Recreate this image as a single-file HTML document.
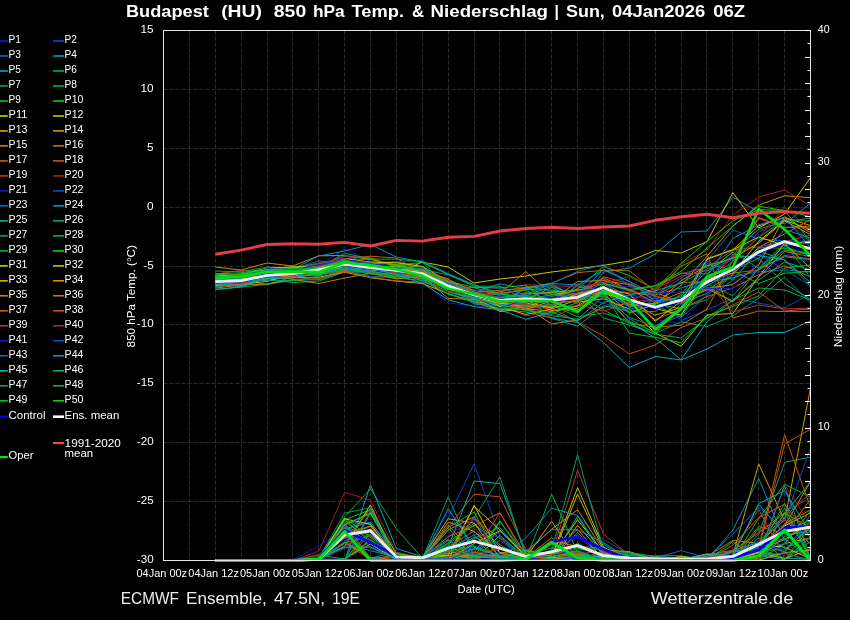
<!DOCTYPE html>
<html lang="en"><head><meta charset="utf-8"><title>Budapest (HU) 850 hPa Temp. &amp; Niederschlag</title>
<style>
html,body{margin:0;padding:0;background:#000;overflow:hidden}
svg{display:block;will-change:transform}
text{font-family:"Liberation Sans",sans-serif;fill:#fff}
.t{font-size:10.8px}
.b{font-size:15.6px;font-weight:bold}
.f{font-size:16.1px;fill:#ececec}
.m{fill:none;stroke-width:0.95;stroke-linejoin:round}
.g{stroke:#2e2e23;stroke-width:1;stroke-dasharray:4.1 1.9;fill:none}
</style></head><body>
<svg width="850" height="620" viewBox="0 0 850 620">
<rect x="0" y="0" width="850" height="620" fill="#000"/>
<g class="g"><path d="M189.5 30.5V560.5"/><path d="M215.5 30.5V560.5"/><path d="M241.5 30.5V560.5"/><path d="M267.5 30.5V560.5"/><path d="M292.5 30.5V560.5"/><path d="M318.5 30.5V560.5"/><path d="M344.5 30.5V560.5"/><path d="M370.5 30.5V560.5"/><path d="M396.5 30.5V560.5"/><path d="M422.5 30.5V560.5"/><path d="M448.5 30.5V560.5"/><path d="M474.5 30.5V560.5"/><path d="M499.5 30.5V560.5"/><path d="M525.5 30.5V560.5"/><path d="M551.5 30.5V560.5"/><path d="M577.5 30.5V560.5"/><path d="M603.5 30.5V560.5"/><path d="M629.5 30.5V560.5"/><path d="M655.5 30.5V560.5"/><path d="M681.5 30.5V560.5"/><path d="M706.5 30.5V560.5"/><path d="M732.5 30.5V560.5"/><path d="M758.5 30.5V560.5"/><path d="M784.5 30.5V560.5"/><path d="M163.5 89.5H810.5"/><path d="M163.5 148.5H810.5"/><path d="M163.5 207.5H810.5"/><path d="M163.5 266.5H810.5"/><path d="M163.5 324.5H810.5"/><path d="M163.5 383.5H810.5"/><path d="M163.5 442.5H810.5"/><path d="M163.5 501.5H810.5"/></g>
<clipPath id="c"><rect x="163.5" y="30.5" width="647.0" height="532.2"/></clipPath>
<g clip-path="url(#c)">
<path class="m" stroke="#1018d8" d="M215.3 283.1L241.1 284.5L267.0 277.8L292.9 272.9L318.8 265.4L344.7 248.9L370.5 261.4L396.4 263.5L422.3 282.0L448.2 302.9L474.1 306.0L499.9 308.0L525.8 286.2L551.7 298.8L577.6 294.3L603.5 286.1L629.3 308.3L655.2 319.3L681.1 323.8L707.0 291.3L732.9 283.7L758.7 263.8L784.6 255.5L810.5 251.4"/><path class="m" stroke="#0050d0" d="M215.3 284.5L241.1 278.8L267.0 271.2L292.9 269.4L318.8 271.2L344.7 263.1L370.5 268.9L396.4 269.8L422.3 275.2L448.2 291.5L474.1 293.5L499.9 300.0L525.8 302.6L551.7 295.3L577.6 290.7L603.5 282.8L629.3 297.3L655.2 297.0L681.1 320.5L707.0 309.9L732.9 298.3L758.7 303.1L784.6 307.8L810.5 294.1"/><path class="m" stroke="#0070d0" d="M215.3 281.8L241.1 281.1L267.0 277.0L292.9 272.8L318.8 272.3L344.7 270.9L370.5 272.5L396.4 275.3L422.3 276.2L448.2 289.4L474.1 294.5L499.9 299.1L525.8 297.0L551.7 291.4L577.6 300.7L603.5 289.4L629.3 307.2L655.2 298.0L681.1 317.5L707.0 295.4L732.9 275.7L758.7 271.8L784.6 269.8L810.5 272.3"/><path class="m" stroke="#0098d0" d="M215.3 278.9L241.1 280.6L267.0 284.3L292.9 280.4L318.8 279.6L344.7 271.0L370.5 270.4L396.4 272.0L422.3 279.3L448.2 287.2L474.1 304.1L499.9 305.9L525.8 306.0L551.7 306.8L577.6 306.1L603.5 272.0L629.3 268.0L655.2 254.0L681.1 232.0L707.0 231.0L732.9 197.2L758.7 212.0L784.6 224.0L810.5 203.0"/><path class="m" stroke="#00b0c0" d="M215.3 280.9L241.1 279.5L267.0 272.1L292.9 269.8L318.8 275.6L344.7 263.7L370.5 264.3L396.4 269.6L422.3 274.3L448.2 287.5L474.1 301.6L499.9 309.5L525.8 312.0L551.7 318.0L577.6 322.5L603.5 342.5L629.3 367.5L655.2 356.5L681.1 360.0L707.0 349.0L732.9 335.0L758.7 332.5L784.6 332.5L810.5 321.0"/><path class="m" stroke="#00a880" d="M215.3 278.4L241.1 280.6L267.0 273.7L292.9 271.3L318.8 275.2L344.7 264.2L370.5 274.2L396.4 276.4L422.3 273.7L448.2 287.8L474.1 296.0L499.9 291.6L525.8 287.6L551.7 296.5L577.6 290.5L603.5 282.4L629.3 298.6L655.2 307.1L681.1 299.3L707.0 287.5L732.9 301.2L758.7 268.4L784.6 246.4L810.5 255.9"/><path class="m" stroke="#00a858" d="M215.3 283.4L241.1 281.8L267.0 277.7L292.9 270.1L318.8 263.7L344.7 264.3L370.5 269.6L396.4 271.1L422.3 270.9L448.2 289.6L474.1 295.1L499.9 303.2L525.8 296.7L551.7 300.1L577.6 312.8L603.5 292.2L629.3 318.6L655.2 333.3L681.1 321.8L707.0 326.6L732.9 315.9L758.7 298.1L784.6 277.1L810.5 302.9"/><path class="m" stroke="#00b840" d="M215.3 289.4L241.1 287.2L267.0 284.3L292.9 277.2L318.8 266.9L344.7 262.8L370.5 266.5L396.4 270.1L422.3 277.0L448.2 286.1L474.1 287.7L499.9 295.4L525.8 287.4L551.7 283.5L577.6 299.0L603.5 287.1L629.3 306.2L655.2 305.0L681.1 317.1L707.0 281.0L732.9 261.2L758.7 237.2L784.6 219.5L810.5 221.3"/><path class="m" stroke="#00c818" d="M215.3 280.8L241.1 285.0L267.0 278.7L292.9 282.6L318.8 281.0L344.7 271.9L370.5 272.2L396.4 274.7L422.3 279.1L448.2 291.8L474.1 299.1L499.9 305.6L525.8 286.5L551.7 290.8L577.6 295.0L603.5 309.8L629.3 323.3L655.2 334.4L681.1 303.3L707.0 293.4L732.9 274.7L758.7 247.6L784.6 248.3L810.5 253.9"/><path class="m" stroke="#10d000" d="M215.3 280.1L241.1 277.3L267.0 272.6L292.9 269.1L318.8 263.5L344.7 259.7L370.5 259.0L396.4 265.0L422.3 262.5L448.2 274.1L474.1 284.7L499.9 293.6L525.8 289.7L551.7 289.9L577.6 295.3L603.5 286.8L629.3 305.9L655.2 303.4L681.1 308.9L707.0 282.0L732.9 277.8L758.7 269.9L784.6 249.9L810.5 254.4"/><path class="m" stroke="#d8d000" d="M215.3 285.4L241.1 284.3L267.0 281.4L292.9 274.2L318.8 271.3L344.7 265.3L370.5 268.0L396.4 273.2L422.3 262.0L448.2 267.0L474.1 283.0L499.9 279.0L525.8 276.0L551.7 272.0L577.6 268.8L603.5 265.4L629.3 261.1L655.2 250.5L681.1 253.0L707.0 241.6L732.9 192.6L758.7 228.0L784.6 214.0L810.5 177.7"/><path class="m" stroke="#d8c000" d="M215.3 284.8L241.1 281.5L267.0 278.6L292.9 277.4L318.8 277.2L344.7 272.2L370.5 277.6L396.4 281.1L422.3 283.5L448.2 293.6L474.1 301.8L499.9 304.9L525.8 305.7L551.7 299.9L577.6 302.2L603.5 298.8L629.3 309.0L655.2 332.9L681.1 346.2L707.0 314.9L732.9 313.5L758.7 276.7L784.6 243.4L810.5 268.5"/><path class="m" stroke="#d8a800" d="M215.3 283.6L241.1 282.7L267.0 273.7L292.9 277.9L318.8 267.6L344.7 264.7L370.5 266.2L396.4 272.3L422.3 280.8L448.2 285.1L474.1 290.6L499.9 300.3L525.8 293.9L551.7 292.4L577.6 290.0L603.5 289.9L629.3 301.1L655.2 315.3L681.1 307.3L707.0 258.6L732.9 249.7L758.7 225.9L784.6 217.5L810.5 225.5"/><path class="m" stroke="#d89000" d="M215.3 267.0L241.1 270.0L267.0 263.0L292.9 266.0L318.8 255.8L344.7 255.5L370.5 259.4L396.4 265.7L422.3 269.1L448.2 283.4L474.1 294.4L499.9 302.4L525.8 300.3L551.7 310.5L577.6 308.3L603.5 287.9L629.3 304.6L655.2 303.5L681.1 285.4L707.0 256.3L732.9 226.1L758.7 205.1L784.6 195.8L810.5 197.7"/><path class="m" stroke="#d88000" d="M215.3 282.9L241.1 279.7L267.0 275.4L292.9 273.0L318.8 271.5L344.7 261.4L370.5 264.2L396.4 262.1L422.3 266.8L448.2 286.8L474.1 297.0L499.9 303.4L525.8 307.1L551.7 324.0L577.6 320.0L603.5 307.2L629.3 302.9L655.2 307.0L681.1 301.4L707.0 290.0L732.9 274.4L758.7 247.3L784.6 233.8L810.5 219.5"/><path class="m" stroke="#d07000" d="M215.3 286.4L241.1 283.7L267.0 274.4L292.9 270.6L318.8 268.8L344.7 265.4L370.5 268.9L396.4 273.2L422.3 271.7L448.2 278.9L474.1 297.4L499.9 293.7L525.8 271.5L551.7 294.8L577.6 290.6L603.5 292.4L629.3 323.0L655.2 327.3L681.1 325.2L707.0 308.9L732.9 260.1L758.7 218.3L784.6 227.7L810.5 226.2"/><path class="m" stroke="#d06000" d="M215.3 276.7L241.1 280.1L267.0 276.6L292.9 267.8L318.8 265.6L344.7 258.7L370.5 256.2L396.4 258.0L422.3 273.5L448.2 282.3L474.1 302.7L499.9 310.3L525.8 307.0L551.7 306.4L577.6 288.1L603.5 283.8L629.3 300.3L655.2 319.7L681.1 309.1L707.0 296.5L732.9 287.9L758.7 274.6L784.6 265.8L810.5 276.9"/><path class="m" stroke="#d05020" d="M215.3 280.9L241.1 284.2L267.0 275.5L292.9 276.7L318.8 273.4L344.7 270.7L370.5 271.7L396.4 268.1L422.3 271.7L448.2 282.4L474.1 293.3L499.9 305.7L525.8 307.7L551.7 308.2L577.6 322.0L603.5 336.0L629.3 354.0L655.2 345.0L681.1 327.5L707.0 318.0L732.9 305.0L758.7 292.0L784.6 311.0L810.5 309.0"/><path class="m" stroke="#c83830" d="M215.3 274.1L241.1 270.4L267.0 271.7L292.9 270.9L318.8 265.5L344.7 256.4L370.5 257.5L396.4 267.6L422.3 278.3L448.2 286.2L474.1 293.1L499.9 304.6L525.8 307.7L551.7 318.7L577.6 304.7L603.5 311.1L629.3 302.2L655.2 287.6L681.1 273.7L707.0 267.3L732.9 250.1L758.7 246.8L784.6 241.7L810.5 235.0"/><path class="m" stroke="#b02020" d="M215.3 277.0L241.1 274.5L267.0 271.9L292.9 271.4L318.8 263.2L344.7 259.2L370.5 267.1L396.4 273.3L422.3 273.7L448.2 289.2L474.1 298.7L499.9 305.0L525.8 315.8L551.7 311.6L577.6 302.9L603.5 287.5L629.3 299.1L655.2 301.8L681.1 264.0L707.0 250.0L732.9 215.0L758.7 197.0L784.6 190.0L810.5 206.0"/><path class="m" stroke="#1018d8" d="M215.3 274.3L241.1 277.5L267.0 273.9L292.9 269.7L318.8 267.4L344.7 262.5L370.5 262.7L396.4 267.1L422.3 272.3L448.2 282.7L474.1 291.2L499.9 288.0L525.8 295.6L551.7 289.4L577.6 284.5L603.5 278.8L629.3 294.5L655.2 301.6L681.1 305.2L707.0 282.6L732.9 275.9L758.7 272.4L784.6 256.3L810.5 262.1"/><path class="m" stroke="#0050d0" d="M215.3 282.0L241.1 274.1L267.0 268.8L292.9 270.5L318.8 264.7L344.7 255.7L370.5 263.0L396.4 261.3L422.3 260.7L448.2 273.4L474.1 284.8L499.9 295.9L525.8 296.8L551.7 299.0L577.6 293.6L603.5 280.9L629.3 289.5L655.2 298.7L681.1 300.0L707.0 294.0L732.9 260.0L758.7 232.2L784.6 218.9L810.5 242.1"/><path class="m" stroke="#0070d0" d="M215.3 277.1L241.1 275.7L267.0 271.7L292.9 268.9L318.8 260.8L344.7 264.6L370.5 274.2L396.4 273.8L422.3 275.1L448.2 291.3L474.1 300.3L499.9 304.2L525.8 304.5L551.7 307.6L577.6 283.9L603.5 292.2L629.3 306.7L655.2 325.8L681.1 315.9L707.0 260.6L732.9 230.2L758.7 238.9L784.6 241.1L810.5 241.2"/><path class="m" stroke="#0098d0" d="M215.3 284.4L241.1 282.5L267.0 270.0L292.9 269.2L318.8 256.0L344.7 251.0L370.5 244.4L396.4 257.0L422.3 262.0L448.2 287.4L474.1 292.7L499.9 283.7L525.8 288.9L551.7 285.5L577.6 296.4L603.5 269.2L629.3 281.3L655.2 294.7L681.1 287.9L707.0 279.9L732.9 254.6L758.7 258.4L784.6 229.5L810.5 238.1"/><path class="m" stroke="#00b0c0" d="M215.3 283.8L241.1 286.7L267.0 276.5L292.9 270.3L318.8 268.2L344.7 261.3L370.5 262.5L396.4 270.0L422.3 268.9L448.2 285.5L474.1 299.1L499.9 306.2L525.8 300.0L551.7 287.3L577.6 300.0L603.5 296.0L629.3 322.0L655.2 338.0L681.1 359.7L707.0 322.0L732.9 300.0L758.7 280.0L784.6 262.0L810.5 270.0"/><path class="m" stroke="#00a880" d="M215.3 282.2L241.1 283.5L267.0 279.6L292.9 272.2L318.8 271.5L344.7 268.2L370.5 271.5L396.4 278.0L422.3 280.5L448.2 294.2L474.1 302.2L499.9 298.1L525.8 296.1L551.7 286.1L577.6 296.0L603.5 282.9L629.3 290.9L655.2 286.1L681.1 273.3L707.0 273.8L732.9 251.5L758.7 229.2L784.6 221.6L810.5 218.2"/><path class="m" stroke="#00a858" d="M215.3 271.1L241.1 271.7L267.0 267.1L292.9 268.3L318.8 263.0L344.7 260.9L370.5 264.8L396.4 269.9L422.3 275.1L448.2 283.1L474.1 295.6L499.9 293.4L525.8 298.9L551.7 305.1L577.6 316.8L603.5 313.0L629.3 321.2L655.2 332.0L681.1 309.6L707.0 283.8L732.9 295.7L758.7 268.6L784.6 243.5L810.5 277.5"/><path class="m" stroke="#00b840" d="M215.3 280.5L241.1 278.6L267.0 277.6L292.9 273.4L318.8 268.2L344.7 253.2L370.5 259.1L396.4 259.1L422.3 261.6L448.2 274.5L474.1 286.3L499.9 286.2L525.8 300.1L551.7 294.6L577.6 293.4L603.5 318.0L629.3 325.0L655.2 334.0L681.1 338.0L707.0 318.0L732.9 300.0L758.7 288.0L784.6 290.0L810.5 300.0"/><path class="m" stroke="#00c818" d="M215.3 281.4L241.1 279.6L267.0 275.2L292.9 275.3L318.8 275.1L344.7 265.2L370.5 267.3L396.4 266.2L422.3 269.0L448.2 292.1L474.1 297.7L499.9 310.2L525.8 306.6L551.7 304.5L577.6 285.8L603.5 292.9L629.3 333.2L655.2 337.3L681.1 342.7L707.0 315.7L732.9 306.5L758.7 295.9L784.6 268.1L810.5 264.9"/><path class="m" stroke="#10d000" d="M215.3 273.8L241.1 272.8L267.0 268.7L292.9 268.0L318.8 267.6L344.7 258.7L370.5 277.1L396.4 276.9L422.3 277.1L448.2 288.9L474.1 294.2L499.9 297.6L525.8 295.6L551.7 298.9L577.6 289.1L603.5 266.5L629.3 275.4L655.2 289.4L681.1 263.4L707.0 241.3L732.9 220.9L758.7 209.7L784.6 210.3L810.5 216.9"/><path class="m" stroke="#d8d000" d="M215.3 275.8L241.1 274.9L267.0 268.4L292.9 266.8L318.8 266.6L344.7 262.3L370.5 264.8L396.4 268.4L422.3 272.4L448.2 287.5L474.1 296.6L499.9 303.4L525.8 302.9L551.7 307.8L577.6 293.0L603.5 292.9L629.3 301.3L655.2 308.4L681.1 315.1L707.0 278.4L732.9 273.1L758.7 241.2L784.6 220.3L810.5 229.4"/><path class="m" stroke="#d8c000" d="M215.3 280.8L241.1 279.1L267.0 277.7L292.9 273.5L318.8 267.7L344.7 258.7L370.5 262.1L396.4 262.8L422.3 266.4L448.2 281.3L474.1 290.4L499.9 306.6L525.8 314.5L551.7 309.0L577.6 299.6L603.5 288.4L629.3 293.9L655.2 321.2L681.1 301.2L707.0 259.5L732.9 249.8L758.7 237.0L784.6 245.3L810.5 240.9"/><path class="m" stroke="#d8a800" d="M215.3 278.4L241.1 279.5L267.0 275.6L292.9 276.3L318.8 274.4L344.7 266.3L370.5 264.6L396.4 269.4L422.3 270.1L448.2 285.2L474.1 297.1L499.9 311.6L525.8 308.8L551.7 311.3L577.6 306.0L603.5 290.3L629.3 312.5L655.2 304.8L681.1 280.7L707.0 265.8L732.9 258.3L758.7 243.0L784.6 220.9L810.5 234.7"/><path class="m" stroke="#d89000" d="M215.3 279.3L241.1 278.5L267.0 268.7L292.9 267.6L318.8 267.8L344.7 262.1L370.5 267.1L396.4 266.1L422.3 269.7L448.2 284.4L474.1 295.4L499.9 300.2L525.8 309.5L551.7 300.7L577.6 281.4L603.5 280.6L629.3 284.7L655.2 292.5L681.1 302.3L707.0 288.4L732.9 284.6L758.7 265.0L784.6 216.8L810.5 232.7"/><path class="m" stroke="#d88000" d="M215.3 288.1L241.1 285.0L267.0 284.0L292.9 279.5L318.8 283.5L344.7 278.0L370.5 273.2L396.4 278.9L422.3 276.3L448.2 298.4L474.1 299.4L499.9 302.9L525.8 293.6L551.7 292.8L577.6 294.6L603.5 277.8L629.3 289.6L655.2 302.8L681.1 292.6L707.0 288.6L732.9 301.8L758.7 277.4L784.6 251.3L810.5 256.7"/><path class="m" stroke="#d07000" d="M215.3 279.3L241.1 275.1L267.0 277.1L292.9 275.1L318.8 266.5L344.7 263.1L370.5 261.9L396.4 271.3L422.3 269.6L448.2 279.3L474.1 291.9L499.9 290.4L525.8 287.8L551.7 283.1L577.6 272.6L603.5 270.4L629.3 270.7L655.2 291.4L681.1 266.3L707.0 253.9L732.9 318.0L758.7 311.0L784.6 311.6L810.5 311.6"/><path class="m" stroke="#d06000" d="M215.3 282.9L241.1 281.7L267.0 276.6L292.9 279.1L318.8 278.7L344.7 270.1L370.5 277.6L396.4 280.9L422.3 282.3L448.2 287.5L474.1 291.3L499.9 293.1L525.8 290.3L551.7 302.2L577.6 301.1L603.5 289.0L629.3 292.9L655.2 295.2L681.1 282.5L707.0 281.7L732.9 273.1L758.7 270.0L784.6 255.6L810.5 258.8"/><path class="m" stroke="#d05020" d="M215.3 287.3L241.1 283.5L267.0 277.2L292.9 277.7L318.8 273.7L344.7 272.5L370.5 270.3L396.4 270.9L422.3 277.9L448.2 286.4L474.1 293.9L499.9 302.0L525.8 306.0L551.7 305.0L577.6 299.8L603.5 276.7L629.3 283.7L655.2 296.5L681.1 301.2L707.0 281.1L732.9 256.9L758.7 217.4L784.6 227.2L810.5 226.9"/><path class="m" stroke="#c83830" d="M215.3 280.3L241.1 283.8L267.0 277.8L292.9 277.0L318.8 273.5L344.7 264.5L370.5 272.3L396.4 276.0L422.3 272.1L448.2 280.1L474.1 290.8L499.9 299.0L525.8 305.2L551.7 298.6L577.6 293.6L603.5 279.6L629.3 291.0L655.2 295.5L681.1 303.9L707.0 281.5L732.9 312.0L758.7 305.0L784.6 309.0L810.5 308.0"/><path class="m" stroke="#b02020" d="M215.3 282.6L241.1 283.7L267.0 274.7L292.9 271.1L318.8 263.2L344.7 258.2L370.5 269.0L396.4 271.3L422.3 274.8L448.2 291.9L474.1 291.1L499.9 297.6L525.8 284.6L551.7 286.0L577.6 286.3L603.5 283.3L629.3 276.7L655.2 289.0L681.1 276.2L707.0 270.7L732.9 259.4L758.7 237.4L784.6 207.5L810.5 229.5"/><path class="m" stroke="#1018d8" d="M215.3 281.0L241.1 277.0L267.0 268.5L292.9 269.5L318.8 265.0L344.7 259.5L370.5 263.0L396.4 268.5L422.3 268.1L448.2 286.7L474.1 297.5L499.9 308.4L525.8 299.2L551.7 298.2L577.6 291.4L603.5 287.2L629.3 286.6L655.2 293.8L681.1 291.7L707.0 288.4L732.9 288.4L758.7 267.0L784.6 241.8L810.5 261.0"/><path class="m" stroke="#0050d0" d="M215.3 282.2L241.1 278.2L267.0 269.7L292.9 270.7L318.8 266.2L344.7 260.7L370.5 264.2L396.4 269.7L422.3 275.0L448.2 284.2L474.1 296.0L499.9 296.8L525.8 297.8L551.7 304.5L577.6 295.4L603.5 303.3L629.3 309.8L655.2 300.3L681.1 301.6L707.0 276.5L732.9 266.7L758.7 254.1L784.6 269.9L810.5 285.6"/><path class="m" stroke="#0070d0" d="M215.3 277.3L241.1 276.3L267.0 272.4L292.9 275.2L318.8 271.8L344.7 269.2L370.5 277.3L396.4 273.8L422.3 280.0L448.2 286.4L474.1 296.1L499.9 301.1L525.8 294.3L551.7 283.4L577.6 271.4L603.5 264.5L629.3 286.0L655.2 294.6L681.1 278.0L707.0 260.9L732.9 280.5L758.7 248.5L784.6 242.5L810.5 243.8"/><path class="m" stroke="#0098d0" d="M215.3 283.5L241.1 285.7L267.0 277.0L292.9 274.4L318.8 271.9L344.7 269.0L370.5 270.5L396.4 267.2L422.3 269.7L448.2 282.5L474.1 292.0L499.9 302.0L525.8 288.6L551.7 283.6L577.6 284.9L603.5 269.8L629.3 281.5L655.2 301.3L681.1 297.5L707.0 276.0L732.9 238.5L758.7 224.8L784.6 217.3L810.5 247.6"/><path class="m" stroke="#00b0c0" d="M215.3 289.5L241.1 286.7L267.0 278.4L292.9 278.0L318.8 273.1L344.7 268.9L370.5 268.7L396.4 274.7L422.3 283.2L448.2 299.8L474.1 306.6L499.9 309.8L525.8 319.2L551.7 312.2L577.6 320.9L603.5 302.6L629.3 294.9L655.2 290.8L681.1 283.1L707.0 269.0L732.9 257.4L758.7 255.5L784.6 259.9L810.5 282.6"/><path class="m" stroke="#00a880" d="M215.3 275.7L241.1 278.3L267.0 269.4L292.9 272.3L318.8 274.6L344.7 267.8L370.5 264.6L396.4 268.2L422.3 269.4L448.2 274.8L474.1 284.7L499.9 294.1L525.8 296.4L551.7 318.2L577.6 326.3L603.5 305.7L629.3 311.1L655.2 311.6L681.1 294.3L707.0 263.6L732.9 270.2L758.7 258.1L784.6 283.7L810.5 299.4"/><path class="m" stroke="#00a858" d="M215.3 287.2L241.1 280.5L267.0 280.5L292.9 280.7L318.8 276.2L344.7 269.3L370.5 271.7L396.4 274.5L422.3 278.6L448.2 294.0L474.1 301.3L499.9 308.3L525.8 309.7L551.7 315.6L577.6 319.2L603.5 296.5L629.3 317.3L655.2 326.7L681.1 307.9L707.0 299.7L732.9 279.9L758.7 251.1L784.6 259.8L810.5 285.9"/><path class="m" stroke="#00b840" d="M215.3 276.9L241.1 275.2L267.0 270.9L292.9 270.9L318.8 270.6L344.7 260.9L370.5 270.8L396.4 276.9L422.3 278.0L448.2 286.2L474.1 294.1L499.9 297.8L525.8 292.6L551.7 294.0L577.6 298.5L603.5 294.6L629.3 313.3L655.2 303.9L681.1 295.8L707.0 271.5L732.9 252.2L758.7 268.2L784.6 256.8L810.5 259.7"/><path class="m" stroke="#00c818" d="M215.3 274.7L241.1 273.9L267.0 269.7L292.9 268.9L318.8 268.6L344.7 259.8L370.5 268.9L396.4 265.0L422.3 267.1L448.2 286.8L474.1 297.6L499.9 304.9L525.8 310.5L551.7 314.3L577.6 302.0L603.5 287.1L629.3 300.9L655.2 308.5L681.1 299.3L707.0 285.8L732.9 270.6L758.7 283.5L784.6 273.3L810.5 271.3"/><path class="m" stroke="#10d000" d="M215.3 279.6L241.1 279.5L267.0 274.7L292.9 273.3L318.8 273.8L344.7 265.3L370.5 262.8L396.4 264.7L422.3 272.2L448.2 281.3L474.1 287.4L499.9 287.9L525.8 285.1L551.7 305.7L577.6 312.9L603.5 283.4L629.3 289.6L655.2 285.6L681.1 271.3L707.0 248.1L732.9 226.0L758.7 206.2L784.6 210.7L810.5 241.2"/>
<path class="m" stroke="#1018d8" d="M215.3 560.5L241.1 560.5L267.0 560.5L292.9 559.8L318.8 545.9L344.7 530.0L370.5 522.5L396.4 555.8L422.3 556.5L448.2 531.0L474.1 558.3L499.9 552.2L525.8 555.4L551.7 557.8L577.6 534.9L603.5 558.5L629.3 560.1L655.2 560.0L681.1 560.3L707.0 560.5L732.9 559.5L758.7 547.7L784.6 524.3L810.5 528.1"/><path class="m" stroke="#0050d0" d="M215.3 560.5L241.1 560.5L267.0 560.5L292.9 560.5L318.8 559.4L344.7 541.1L370.5 525.9L396.4 559.5L422.3 559.2L448.2 518.1L474.1 463.8L499.9 536.6L525.8 557.9L551.7 560.2L577.6 516.4L603.5 539.6L629.3 554.2L655.2 560.0L681.1 558.5L707.0 559.9L732.9 560.2L758.7 559.8L784.6 511.6L810.5 497.6"/><path class="m" stroke="#0070d0" d="M215.3 560.5L241.1 560.5L267.0 560.5L292.9 560.5L318.8 559.3L344.7 524.8L370.5 547.4L396.4 559.6L422.3 558.5L448.2 558.4L474.1 555.1L499.9 548.9L525.8 558.4L551.7 554.5L577.6 556.9L603.5 555.7L629.3 554.4L655.2 557.9L681.1 550.6L707.0 557.9L732.9 534.0L758.7 507.5L784.6 529.0L810.5 559.2"/><path class="m" stroke="#0098d0" d="M215.3 560.5L241.1 560.5L267.0 560.5L292.9 560.5L318.8 558.2L344.7 523.4L370.5 558.0L396.4 552.3L422.3 558.7L448.2 557.4L474.1 538.3L499.9 527.6L525.8 557.8L551.7 558.9L577.6 554.7L603.5 559.3L629.3 560.5L655.2 557.2L681.1 559.7L707.0 560.2L732.9 530.0L758.7 478.4L784.6 540.6L810.5 520.8"/><path class="m" stroke="#00b0c0" d="M215.3 560.5L241.1 560.5L267.0 560.5L292.9 560.5L318.8 560.5L344.7 560.5L370.5 485.0L396.4 548.6L422.3 556.6L448.2 551.3L474.1 557.8L499.9 557.3L525.8 560.4L551.7 556.4L577.6 560.4L603.5 558.0L629.3 560.0L655.2 560.2L681.1 559.8L707.0 558.7L732.9 560.2L758.7 555.2L784.6 559.9L810.5 526.4"/><path class="m" stroke="#00a880" d="M215.3 560.5L241.1 560.5L267.0 560.5L292.9 560.5L318.8 558.6L344.7 543.5L370.5 550.8L396.4 556.8L422.3 560.2L448.2 549.2L474.1 535.0L499.9 560.3L525.8 557.1L551.7 560.3L577.6 548.4L603.5 554.0L629.3 557.7L655.2 559.6L681.1 559.8L707.0 559.7L732.9 560.4L758.7 534.0L784.6 462.4L810.5 457.1"/><path class="m" stroke="#00a858" d="M215.3 560.5L241.1 560.5L267.0 560.5L292.9 560.5L318.8 560.5L344.7 533.7L370.5 508.5L396.4 553.4L422.3 559.2L448.2 496.9L474.1 555.2L499.9 556.5L525.8 559.4L551.7 560.2L577.6 555.5L603.5 556.1L629.3 559.4L655.2 558.3L681.1 559.0L707.0 560.5L732.9 558.8L758.7 559.0L784.6 536.4L810.5 529.5"/><path class="m" stroke="#00b840" d="M215.3 560.5L241.1 560.5L267.0 560.5L292.9 560.5L318.8 559.7L344.7 516.8L370.5 488.9L396.4 528.7L422.3 557.9L448.2 546.7L474.1 531.0L499.9 556.6L525.8 556.2L551.7 560.0L577.6 560.0L603.5 544.2L629.3 560.2L655.2 559.6L681.1 558.9L707.0 560.1L732.9 559.7L758.7 537.9L784.6 559.4L810.5 537.3"/><path class="m" stroke="#00c818" d="M215.3 560.5L241.1 560.5L267.0 560.5L292.9 560.5L318.8 560.5L344.7 558.9L370.5 530.7L396.4 556.3L422.3 558.2L448.2 556.5L474.1 556.5L499.9 520.8L525.8 559.2L551.7 553.5L577.6 560.2L603.5 550.5L629.3 555.8L655.2 555.8L681.1 555.8L707.0 560.1L732.9 559.7L758.7 518.5L784.6 484.1L810.5 497.2"/><path class="m" stroke="#10d000" d="M215.3 560.5L241.1 560.5L267.0 560.5L292.9 560.5L318.8 560.5L344.7 519.8L370.5 509.7L396.4 558.3L422.3 557.1L448.2 539.3L474.1 560.0L499.9 535.3L525.8 558.5L551.7 557.8L577.6 554.1L603.5 558.6L629.3 560.4L655.2 560.5L681.1 560.2L707.0 560.4L732.9 541.7L758.7 560.3L784.6 512.1L810.5 558.9"/><path class="m" stroke="#d8d000" d="M215.3 560.5L241.1 560.5L267.0 560.5L292.9 560.5L318.8 560.5L344.7 559.0L370.5 544.0L396.4 560.2L422.3 556.7L448.2 560.3L474.1 505.3L499.9 553.1L525.8 559.7L551.7 556.5L577.6 487.6L603.5 547.2L629.3 559.4L655.2 560.4L681.1 556.5L707.0 559.7L732.9 559.9L758.7 552.8L784.6 525.9L810.5 512.8"/><path class="m" stroke="#d8c000" d="M215.3 560.5L241.1 560.5L267.0 560.5L292.9 560.5L318.8 559.8L344.7 537.9L370.5 529.0L396.4 557.4L422.3 560.4L448.2 555.4L474.1 554.9L499.9 555.3L525.8 559.7L551.7 557.9L577.6 494.2L603.5 549.9L629.3 551.7L655.2 560.0L681.1 560.2L707.0 560.5L732.9 559.8L758.7 552.6L784.6 543.6L810.5 538.1"/><path class="m" stroke="#d8a800" d="M215.3 560.5L241.1 560.5L267.0 560.5L292.9 560.5L318.8 560.3L344.7 542.4L370.5 557.5L396.4 560.0L422.3 558.6L448.2 553.1L474.1 560.2L499.9 560.4L525.8 560.4L551.7 560.2L577.6 525.4L603.5 554.5L629.3 560.4L655.2 556.2L681.1 558.6L707.0 559.7L732.9 555.2L758.7 463.8L784.6 520.8L810.5 388.2"/><path class="m" stroke="#d89000" d="M215.3 560.5L241.1 560.5L267.0 560.5L292.9 560.5L318.8 558.7L344.7 559.6L370.5 559.3L396.4 555.0L422.3 560.4L448.2 560.3L474.1 552.0L499.9 558.5L525.8 559.7L551.7 560.0L577.6 558.8L603.5 560.4L629.3 560.5L655.2 560.0L681.1 558.4L707.0 559.0L732.9 551.8L758.7 546.9L784.6 525.8L810.5 481.6"/><path class="m" stroke="#d88000" d="M215.3 560.5L241.1 560.5L267.0 560.5L292.9 560.5L318.8 560.4L344.7 559.7L370.5 539.5L396.4 558.8L422.3 559.8L448.2 530.0L474.1 516.8L499.9 547.2L525.8 558.2L551.7 540.4L577.6 546.5L603.5 548.0L629.3 557.0L655.2 560.3L681.1 560.4L707.0 556.5L732.9 540.4L758.7 543.4L784.6 519.6L810.5 544.1"/><path class="m" stroke="#d07000" d="M215.3 560.5L241.1 560.5L267.0 560.5L292.9 560.5L318.8 560.5L344.7 559.8L370.5 534.1L396.4 556.3L422.3 558.3L448.2 536.6L474.1 526.0L499.9 512.8L525.8 555.2L551.7 560.3L577.6 553.9L603.5 557.1L629.3 559.8L655.2 559.8L681.1 560.5L707.0 560.5L732.9 558.0L758.7 526.6L784.6 533.6L810.5 499.3"/><path class="m" stroke="#d06000" d="M215.3 560.5L241.1 560.5L267.0 560.5L292.9 560.5L318.8 560.1L344.7 543.2L370.5 559.5L396.4 557.4L422.3 558.6L448.2 549.7L474.1 519.1L499.9 538.2L525.8 560.0L551.7 544.5L577.6 535.2L603.5 559.8L629.3 559.9L655.2 559.8L681.1 560.0L707.0 559.8L732.9 559.6L758.7 547.2L784.6 434.6L810.5 507.5"/><path class="m" stroke="#d05020" d="M215.3 560.5L241.1 560.5L267.0 560.5L292.9 560.5L318.8 560.0L344.7 559.6L370.5 513.3L396.4 559.5L422.3 560.4L448.2 527.4L474.1 494.2L499.9 496.9L525.8 549.9L551.7 555.7L577.6 556.5L603.5 558.9L629.3 558.5L655.2 560.2L681.1 559.6L707.0 559.9L732.9 560.4L758.7 556.2L784.6 553.3L810.5 560.2"/><path class="m" stroke="#c83830" d="M215.3 560.5L241.1 560.5L267.0 560.5L292.9 560.5L318.8 558.1L344.7 521.5L370.5 540.1L396.4 557.5L422.3 558.0L448.2 540.0L474.1 557.0L499.9 546.5L525.8 558.0L551.7 553.9L577.6 470.4L603.5 534.0L629.3 555.2L655.2 560.5L681.1 559.7L707.0 558.2L732.9 551.8L758.7 509.2L784.6 558.0L810.5 559.6"/><path class="m" stroke="#b02020" d="M215.3 560.5L241.1 560.5L267.0 560.5L292.9 560.5L318.8 551.2L344.7 492.3L370.5 500.1L396.4 552.5L422.3 557.1L448.2 560.2L474.1 527.4L499.9 557.0L525.8 559.7L551.7 557.4L577.6 560.3L603.5 559.6L629.3 559.6L655.2 559.7L681.1 558.1L707.0 559.9L732.9 559.8L758.7 529.3L784.6 519.6L810.5 534.9"/><path class="m" stroke="#1018d8" d="M215.3 560.5L241.1 560.5L267.0 560.5L292.9 560.5L318.8 558.8L344.7 559.3L370.5 545.8L396.4 560.4L422.3 559.8L448.2 511.5L474.1 553.9L499.9 557.9L525.8 560.2L551.7 554.5L577.6 535.9L603.5 558.6L629.3 554.0L655.2 558.1L681.1 560.5L707.0 560.2L732.9 553.2L758.7 548.9L784.6 539.9L810.5 543.9"/><path class="m" stroke="#0050d0" d="M215.3 560.5L241.1 560.5L267.0 560.5L292.9 560.5L318.8 560.0L344.7 548.4L370.5 525.5L396.4 560.4L422.3 557.5L448.2 552.8L474.1 534.3L499.9 536.7L525.8 560.2L551.7 542.2L577.6 559.6L603.5 557.8L629.3 557.0L655.2 555.7L681.1 558.5L707.0 560.1L732.9 553.1L758.7 540.6L784.6 520.8L810.5 447.9"/><path class="m" stroke="#0070d0" d="M215.3 560.5L241.1 560.5L267.0 560.5L292.9 560.5L318.8 557.6L344.7 521.6L370.5 524.6L396.4 557.2L422.3 557.2L448.2 540.3L474.1 558.3L499.9 548.0L525.8 551.0L551.7 552.9L577.6 560.0L603.5 555.9L629.3 556.7L655.2 560.4L681.1 558.9L707.0 560.1L732.9 558.8L758.7 560.1L784.6 553.1L810.5 514.9"/><path class="m" stroke="#0098d0" d="M215.3 560.5L241.1 560.5L267.0 560.5L292.9 560.5L318.8 560.5L344.7 559.3L370.5 560.1L396.4 560.4L422.3 557.2L448.2 560.4L474.1 555.9L499.9 559.2L525.8 538.0L551.7 508.2L577.6 515.5L603.5 553.9L629.3 560.4L655.2 557.7L681.1 558.6L707.0 558.5L732.9 555.2L758.7 504.3L784.6 534.1L810.5 531.9"/><path class="m" stroke="#00b0c0" d="M215.3 560.5L241.1 560.5L267.0 560.5L292.9 560.5L318.8 560.4L344.7 528.7L370.5 522.1L396.4 555.5L422.3 556.6L448.2 547.2L474.1 481.0L499.9 483.6L525.8 553.9L551.7 554.9L577.6 551.6L603.5 559.0L629.3 558.3L655.2 558.8L681.1 558.9L707.0 554.8L732.9 550.2L758.7 542.7L784.6 551.8L810.5 524.9"/><path class="m" stroke="#00a880" d="M215.3 560.5L241.1 560.5L267.0 560.5L292.9 560.5L318.8 559.9L344.7 527.3L370.5 542.7L396.4 559.3L422.3 556.9L448.2 560.1L474.1 556.6L499.9 557.9L525.8 555.4L551.7 552.4L577.6 558.1L603.5 560.2L629.3 560.2L655.2 559.4L681.1 557.0L707.0 560.5L732.9 550.5L758.7 550.5L784.6 558.1L810.5 559.1"/><path class="m" stroke="#00a858" d="M215.3 560.5L241.1 560.5L267.0 560.5L292.9 560.5L318.8 560.5L344.7 526.9L370.5 535.3L396.4 553.7L422.3 559.4L448.2 553.9L474.1 518.1L499.9 477.0L525.8 556.5L551.7 558.3L577.6 543.2L603.5 558.1L629.3 558.9L655.2 559.4L681.1 560.4L707.0 557.7L732.9 560.5L758.7 551.6L784.6 503.0L810.5 557.7"/><path class="m" stroke="#00b840" d="M215.3 560.5L241.1 560.5L267.0 560.5L292.9 560.5L318.8 555.0L344.7 559.1L370.5 511.8L396.4 558.5L422.3 558.2L448.2 544.3L474.1 525.0L499.9 544.8L525.8 559.2L551.7 494.2L577.6 552.5L603.5 558.2L629.3 552.4L655.2 560.4L681.1 558.3L707.0 560.4L732.9 551.5L758.7 550.4L784.6 549.7L810.5 527.7"/><path class="m" stroke="#00c818" d="M215.3 560.5L241.1 560.5L267.0 560.5L292.9 560.5L318.8 556.8L344.7 519.5L370.5 542.1L396.4 557.7L422.3 557.9L448.2 527.6L474.1 560.0L499.9 522.0L525.8 554.4L551.7 554.9L577.6 550.7L603.5 559.5L629.3 559.9L655.2 560.2L681.1 559.4L707.0 560.0L732.9 559.4L758.7 544.5L784.6 508.3L810.5 558.5"/><path class="m" stroke="#10d000" d="M215.3 560.5L241.1 560.5L267.0 560.5L292.9 560.5L318.8 559.9L344.7 517.8L370.5 537.5L396.4 555.2L422.3 560.3L448.2 542.6L474.1 523.1L499.9 549.4L525.8 556.6L551.7 557.6L577.6 532.7L603.5 558.4L629.3 559.2L655.2 557.8L681.1 560.2L707.0 559.1L732.9 559.4L758.7 559.7L784.6 543.9L810.5 510.8"/><path class="m" stroke="#d8d000" d="M215.3 560.5L241.1 560.5L267.0 560.5L292.9 560.5L318.8 559.1L344.7 546.5L370.5 504.9L396.4 560.4L422.3 560.0L448.2 559.5L474.1 543.5L499.9 530.9L525.8 555.6L551.7 555.6L577.6 519.8L603.5 552.6L629.3 559.8L655.2 560.3L681.1 560.4L707.0 560.5L732.9 560.4L758.7 544.8L784.6 547.1L810.5 559.0"/><path class="m" stroke="#d8c000" d="M215.3 560.5L241.1 560.5L267.0 560.5L292.9 560.5L318.8 559.7L344.7 518.9L370.5 524.2L396.4 557.7L422.3 557.1L448.2 555.2L474.1 506.2L499.9 530.0L525.8 556.5L551.7 557.4L577.6 560.3L603.5 559.9L629.3 559.6L655.2 560.4L681.1 557.0L707.0 560.5L732.9 558.9L758.7 552.1L784.6 558.9L810.5 549.1"/><path class="m" stroke="#d8a800" d="M215.3 560.5L241.1 560.5L267.0 560.5L292.9 560.5L318.8 559.2L344.7 525.1L370.5 512.8L396.4 553.8L422.3 557.5L448.2 518.8L474.1 523.0L499.9 558.4L525.8 557.9L551.7 521.2L577.6 560.1L603.5 557.5L629.3 557.8L655.2 557.9L681.1 559.6L707.0 554.5L732.9 559.2L758.7 560.1L784.6 552.5L810.5 550.2"/><path class="m" stroke="#d89000" d="M215.3 560.5L241.1 560.5L267.0 560.5L292.9 560.5L318.8 560.3L344.7 536.9L370.5 525.7L396.4 557.4L422.3 560.4L448.2 522.1L474.1 531.4L499.9 552.5L525.8 553.3L551.7 529.2L577.6 509.7L603.5 550.6L629.3 552.3L655.2 559.1L681.1 559.7L707.0 560.5L732.9 560.3L758.7 550.3L784.6 539.4L810.5 522.9"/><path class="m" stroke="#d88000" d="M215.3 560.5L241.1 560.5L267.0 560.5L292.9 560.5L318.8 560.1L344.7 529.2L370.5 541.1L396.4 560.4L422.3 558.3L448.2 550.0L474.1 559.5L499.9 553.2L525.8 557.9L551.7 553.0L577.6 529.2L603.5 560.3L629.3 559.5L655.2 560.0L681.1 560.5L707.0 559.3L732.9 560.5L758.7 558.5L784.6 523.7L810.5 510.0"/><path class="m" stroke="#d07000" d="M215.3 560.5L241.1 560.5L267.0 560.5L292.9 560.5L318.8 558.8L344.7 533.2L370.5 526.3L396.4 555.2L422.3 560.4L448.2 525.0L474.1 553.8L499.9 557.6L525.8 550.4L551.7 553.8L577.6 555.0L603.5 556.8L629.3 558.7L655.2 560.5L681.1 560.5L707.0 560.5L732.9 550.4L758.7 532.8L784.6 513.1L810.5 527.6"/><path class="m" stroke="#d06000" d="M215.3 560.5L241.1 560.5L267.0 560.5L292.9 560.5L318.8 559.6L344.7 543.4L370.5 508.2L396.4 559.8L422.3 556.7L448.2 559.6L474.1 539.2L499.9 559.7L525.8 557.4L551.7 538.0L577.6 554.8L603.5 560.4L629.3 560.5L655.2 560.4L681.1 559.8L707.0 559.9L732.9 545.3L758.7 517.7L784.6 504.2L810.5 537.9"/><path class="m" stroke="#d05020" d="M215.3 560.5L241.1 560.5L267.0 560.5L292.9 560.5L318.8 558.2L344.7 527.3L370.5 557.8L396.4 559.8L422.3 559.7L448.2 551.5L474.1 516.6L499.9 559.7L525.8 557.9L551.7 553.9L577.6 560.2L603.5 551.0L629.3 560.4L655.2 558.7L681.1 559.9L707.0 560.4L732.9 556.0L758.7 549.9L784.6 443.9L810.5 429.3"/><path class="m" stroke="#c83830" d="M215.3 560.5L241.1 560.5L267.0 560.5L292.9 560.5L318.8 559.8L344.7 545.6L370.5 534.8L396.4 558.6L422.3 559.3L448.2 556.6L474.1 553.4L499.9 512.7L525.8 558.7L551.7 551.8L577.6 552.9L603.5 552.2L629.3 559.7L655.2 559.4L681.1 559.1L707.0 557.8L732.9 550.2L758.7 545.4L784.6 516.9L810.5 492.7"/><path class="m" stroke="#b02020" d="M215.3 560.5L241.1 560.5L267.0 560.5L292.9 560.5L318.8 554.4L344.7 537.7L370.5 559.0L396.4 560.4L422.3 557.4L448.2 550.9L474.1 553.6L499.9 549.2L525.8 558.2L551.7 554.3L577.6 558.3L603.5 560.3L629.3 558.7L655.2 560.4L681.1 560.2L707.0 560.5L732.9 559.3L758.7 559.9L784.6 484.7L810.5 524.6"/><path class="m" stroke="#1018d8" d="M215.3 560.5L241.1 560.5L267.0 560.5L292.9 560.5L318.8 559.8L344.7 543.5L370.5 535.4L396.4 559.0L422.3 557.8L448.2 534.6L474.1 519.8L499.9 555.0L525.8 559.7L551.7 555.9L577.6 549.1L603.5 560.5L629.3 560.2L655.2 560.5L681.1 558.0L707.0 558.4L732.9 558.0L758.7 546.5L784.6 549.2L810.5 523.9"/><path class="m" stroke="#0050d0" d="M215.3 560.5L241.1 560.5L267.0 560.5L292.9 560.5L318.8 559.5L344.7 538.1L370.5 539.6L396.4 558.8L422.3 560.4L448.2 560.3L474.1 548.8L499.9 540.7L525.8 558.7L551.7 541.6L577.6 560.3L603.5 559.4L629.3 559.0L655.2 559.3L681.1 559.3L707.0 558.3L732.9 556.8L758.7 550.3L784.6 543.5L810.5 558.4"/><path class="m" stroke="#0070d0" d="M215.3 560.5L241.1 560.5L267.0 560.5L292.9 560.5L318.8 560.3L344.7 559.5L370.5 510.5L396.4 560.4L422.3 560.4L448.2 540.4L474.1 554.4L499.9 558.4L525.8 558.9L551.7 560.3L577.6 557.6L603.5 560.2L629.3 558.4L655.2 560.2L681.1 560.0L707.0 560.3L732.9 560.1L758.7 554.6L784.6 553.1L810.5 560.3"/><path class="m" stroke="#0098d0" d="M215.3 560.5L241.1 560.5L267.0 560.5L292.9 560.5L318.8 560.2L344.7 535.4L370.5 530.7L396.4 555.1L422.3 558.8L448.2 545.8L474.1 549.9L499.9 531.3L525.8 551.2L551.7 529.6L577.6 529.8L603.5 542.6L629.3 558.9L655.2 558.6L681.1 559.9L707.0 556.9L732.9 559.4L758.7 555.1L784.6 485.9L810.5 558.0"/><path class="m" stroke="#00b0c0" d="M215.3 560.5L241.1 560.5L267.0 560.5L292.9 560.5L318.8 558.5L344.7 547.3L370.5 547.1L396.4 559.2L422.3 559.2L448.2 508.8L474.1 547.2L499.9 556.5L525.8 560.3L551.7 560.4L577.6 556.1L603.5 556.8L629.3 559.8L655.2 559.6L681.1 560.0L707.0 553.7L732.9 556.2L758.7 503.6L784.6 490.6L810.5 533.3"/><path class="m" stroke="#00a880" d="M215.3 560.5L241.1 560.5L267.0 560.5L292.9 560.5L318.8 560.5L344.7 533.0L370.5 559.1L396.4 556.0L422.3 558.1L448.2 558.5L474.1 548.3L499.9 555.5L525.8 554.1L551.7 548.0L577.6 547.4L603.5 549.9L629.3 559.8L655.2 560.5L681.1 560.5L707.0 558.5L732.9 558.6L758.7 545.8L784.6 514.0L810.5 481.5"/><path class="m" stroke="#00a858" d="M215.3 560.5L241.1 560.5L267.0 560.5L292.9 560.5L318.8 558.4L344.7 513.0L370.5 507.9L396.4 560.1L422.3 559.0L448.2 551.3L474.1 545.9L499.9 555.5L525.8 559.5L551.7 549.9L577.6 454.5L603.5 551.2L629.3 552.5L655.2 556.4L681.1 560.5L707.0 560.4L732.9 560.5L758.7 528.4L784.6 548.5L810.5 537.6"/><path class="m" stroke="#00b840" d="M215.3 560.5L241.1 560.5L267.0 560.5L292.9 560.5L318.8 559.1L344.7 524.1L370.5 513.9L396.4 557.9L422.3 560.1L448.2 527.4L474.1 512.1L499.9 559.7L525.8 555.7L551.7 558.6L577.6 516.2L603.5 556.6L629.3 559.9L655.2 559.1L681.1 559.5L707.0 560.2L732.9 558.2L758.7 548.2L784.6 559.1L810.5 541.7"/><path class="m" stroke="#00c818" d="M215.3 560.5L241.1 560.5L267.0 560.5L292.9 560.5L318.8 560.5L344.7 542.9L370.5 535.6L396.4 556.2L422.3 556.7L448.2 553.1L474.1 537.0L499.9 549.1L525.8 554.5L551.7 556.4L577.6 553.0L603.5 560.3L629.3 553.8L655.2 560.4L681.1 560.0L707.0 560.5L732.9 560.4L758.7 545.2L784.6 538.7L810.5 559.1"/><path class="m" stroke="#10d000" d="M215.3 560.5L241.1 560.5L267.0 560.5L292.9 560.5L318.8 559.9L344.7 559.4L370.5 540.8L396.4 554.0L422.3 557.7L448.2 547.0L474.1 556.8L499.9 558.3L525.8 551.1L551.7 553.8L577.6 547.9L603.5 555.4L629.3 557.2L655.2 559.3L681.1 560.2L707.0 560.1L732.9 555.6L758.7 544.8L784.6 532.5L810.5 519.9"/>
<path fill="none" stroke="#0000ff" stroke-width="2.6" stroke-linejoin="round" d="M215.3 282.1L241.1 281.0L267.0 275.9L292.9 274.0L318.8 270.3L344.7 264.6L370.5 268.1L396.4 270.9L422.3 274.2L448.2 286.4L474.1 295.4L499.9 300.9L525.8 299.2L551.7 300.6L577.6 297.7L603.5 288.2L629.3 300.7L655.2 307.9L681.1 300.8L707.0 282.7L732.9 270.0L758.7 252.6L784.6 242.3L810.5 249.4"/><path fill="none" stroke="#0000ff" stroke-width="2.8" stroke-linejoin="round" d="M215.3 560.5L241.1 560.5L267.0 560.5L292.9 560.5L318.8 558.5L344.7 530.3L370.5 542.5L396.4 555.9L422.3 559.8L448.2 560.2L474.1 560.2L499.9 560.2L525.8 559.2L551.7 541.7L577.6 536.9L603.5 549.4L629.3 559.2L655.2 560.5L681.1 560.5L707.0 560.5L732.9 557.9L758.7 549.9L784.6 528.0L810.5 526.7"/><path fill="none" stroke="#ffffff" stroke-width="2.7" stroke-linejoin="round" d="M215.3 281.7L241.1 280.6L267.0 275.5L292.9 273.6L318.8 269.9L344.7 264.2L370.5 267.7L396.4 270.5L422.3 273.8L448.2 286.0L474.1 295.0L499.9 300.5L525.8 298.8L551.7 300.2L577.6 297.3L603.5 287.5L629.3 300.0L655.2 307.2L681.1 300.1L707.0 282.0L732.9 269.3L758.7 251.9L784.6 241.6L810.5 248.7"/><path fill="none" stroke="#d6d6d6" stroke-width="2.7" stroke-dasharray="0.8 1" stroke-linejoin="round" d="M215.3 281.7L241.1 280.6L267.0 275.5L292.9 273.6L318.8 269.9L344.7 264.2L370.5 267.7L396.4 270.5L422.3 273.8L448.2 286.0L474.1 295.0L499.9 300.5L525.8 298.8L551.7 300.2L577.6 297.3L603.5 287.5L629.3 300.0L655.2 307.2L681.1 300.1L707.0 282.0L732.9 269.3L758.7 251.9L784.6 241.6L810.5 248.7"/><path fill="none" stroke="#ffffff" stroke-width="2.7" stroke-linejoin="round" d="M215.3 560.5L241.1 560.5L267.0 560.5L292.9 560.5L318.8 559.2L344.7 534.9L370.5 530.8L396.4 556.9L422.3 557.9L448.2 548.2L474.1 541.2L499.9 548.2L525.8 556.5L551.7 551.8L577.6 545.4L603.5 555.7L629.3 558.2L655.2 559.2L681.1 559.2L707.0 559.2L732.9 556.5L758.7 544.2L784.6 531.4L810.5 527.1"/><path fill="none" stroke="#d6d6d6" stroke-width="2.7" stroke-dasharray="0.8 1" stroke-linejoin="round" d="M215.3 560.5L241.1 560.5L267.0 560.5L292.9 560.5L318.8 559.2L344.7 534.9L370.5 530.8L396.4 556.9L422.3 557.9L448.2 548.2L474.1 541.2L499.9 548.2L525.8 556.5L551.7 551.8L577.6 545.4L603.5 555.7L629.3 558.2L655.2 559.2L681.1 559.2L707.0 559.2L732.9 556.5L758.7 544.2L784.6 531.4L810.5 527.1"/><path fill="none" stroke="#00e010" stroke-width="2.5" stroke-linejoin="round" d="M215.3 278.0L241.1 277.0L267.0 272.0L292.9 271.5L318.8 272.0L344.7 262.6L370.5 265.6L396.4 269.5L422.3 275.5L448.2 288.6L474.1 294.0L499.9 301.2L525.8 300.8L551.7 301.0L577.6 311.2L603.5 291.0L629.3 300.0L655.2 329.6L681.1 309.0L707.0 276.5L732.9 267.2L758.7 209.0L784.6 229.4L810.5 255.2"/><path fill="none" stroke="#00e010" stroke-width="2.9" stroke-linejoin="round" d="M215.3 560.5L241.1 560.5L267.0 560.5L292.9 560.5L318.8 559.2L344.7 531.4L370.5 560.5L396.4 560.5L422.3 560.5L448.2 560.5L474.1 560.5L499.9 560.5L525.8 559.2L551.7 542.3L577.6 557.9L603.5 560.5L629.3 560.5L655.2 560.5L681.1 560.5L707.0 560.5L732.9 560.5L758.7 555.9L784.6 530.0L810.5 560.5"/><path fill="none" stroke="#e63c46" stroke-width="2.9" stroke-linejoin="round" d="M215.3 254.3L241.1 250.1L267.0 244.5L292.9 243.7L318.8 244.3L344.7 242.4L370.5 246.0L396.4 240.4L422.3 241.1L448.2 237.3L474.1 236.4L499.9 231.0L525.8 228.5L551.7 227.3L577.6 228.5L603.5 227.0L629.3 226.0L655.2 220.3L681.1 216.8L707.0 214.3L732.9 217.8L758.7 213.2L784.6 211.6L810.5 213.2"/>
</g>
<rect x="163.5" y="30.5" width="647.0" height="530.0" fill="none" stroke="#e4e4e4" stroke-width="1.0"/>
<g stroke="#fff" stroke-width="1.1"><path d="M805.0 560.5H810.5"/><path d="M807.5 547.5H810.5"/><path d="M805.0 534.5H810.5"/><path d="M807.5 520.5H810.5"/><path d="M805.0 507.5H810.5"/><path d="M807.5 494.5H810.5"/><path d="M805.0 481.5H810.5"/><path d="M807.5 467.5H810.5"/><path d="M805.0 454.5H810.5"/><path d="M807.5 441.5H810.5"/><path d="M805.0 428.5H810.5"/><path d="M807.5 414.5H810.5"/><path d="M805.0 401.5H810.5"/><path d="M807.5 388.5H810.5"/><path d="M805.0 375.5H810.5"/><path d="M807.5 361.5H810.5"/><path d="M805.0 348.5H810.5"/><path d="M807.5 335.5H810.5"/><path d="M805.0 322.5H810.5"/><path d="M807.5 308.5H810.5"/><path d="M805.0 295.5H810.5"/><path d="M807.5 282.5H810.5"/><path d="M805.0 269.5H810.5"/><path d="M807.5 255.5H810.5"/><path d="M805.0 242.5H810.5"/><path d="M807.5 229.5H810.5"/><path d="M805.0 216.5H810.5"/><path d="M807.5 202.5H810.5"/><path d="M805.0 189.5H810.5"/><path d="M807.5 176.5H810.5"/><path d="M805.0 163.5H810.5"/><path d="M807.5 149.5H810.5"/><path d="M805.0 136.5H810.5"/><path d="M807.5 123.5H810.5"/><path d="M805.0 110.5H810.5"/><path d="M807.5 96.5H810.5"/><path d="M805.0 83.5H810.5"/><path d="M807.5 70.5H810.5"/><path d="M805.0 57.5H810.5"/><path d="M807.5 43.5H810.5"/><path d="M805.0 30.5H810.5"/></g>
<text class="t" x="153.6" y="32.9" text-anchor="end" textLength="13.1" lengthAdjust="spacingAndGlyphs">15</text><text class="t" x="153.6" y="91.8" text-anchor="end" textLength="13.1" lengthAdjust="spacingAndGlyphs">10</text><text class="t" x="153.6" y="150.7" text-anchor="end" textLength="6.6" lengthAdjust="spacingAndGlyphs">5</text><text class="t" x="153.6" y="209.6" text-anchor="end" textLength="6.6" lengthAdjust="spacingAndGlyphs">0</text><text class="t" x="153.6" y="268.5" text-anchor="end" textLength="10.3" lengthAdjust="spacingAndGlyphs">-5</text><text class="t" x="153.6" y="327.3" text-anchor="end" textLength="16.8" lengthAdjust="spacingAndGlyphs">-10</text><text class="t" x="153.6" y="386.2" text-anchor="end" textLength="16.8" lengthAdjust="spacingAndGlyphs">-15</text><text class="t" x="153.6" y="445.1" text-anchor="end" textLength="16.8" lengthAdjust="spacingAndGlyphs">-20</text><text class="t" x="153.6" y="504.0" text-anchor="end" textLength="16.8" lengthAdjust="spacingAndGlyphs">-25</text><text class="t" x="153.6" y="562.9" text-anchor="end" textLength="16.8" lengthAdjust="spacingAndGlyphs">-30</text><text class="t" x="817.8" y="562.9" text-anchor="start" textLength="6.0" lengthAdjust="spacingAndGlyphs">0</text><text class="t" x="817.8" y="430.4" text-anchor="start" textLength="11.8" lengthAdjust="spacingAndGlyphs">10</text><text class="t" x="817.8" y="297.9" text-anchor="start" textLength="11.8" lengthAdjust="spacingAndGlyphs">20</text><text class="t" x="817.8" y="165.4" text-anchor="start" textLength="11.8" lengthAdjust="spacingAndGlyphs">30</text><text class="t" x="817.8" y="32.9" text-anchor="start" textLength="11.8" lengthAdjust="spacingAndGlyphs">40</text><text class="t" x="136.5" y="576.9" text-anchor="start" textLength="50.6" lengthAdjust="spacingAndGlyphs">04Jan 00z</text><text class="t" x="188.3" y="576.9" text-anchor="start" textLength="50.6" lengthAdjust="spacingAndGlyphs">04Jan 12z</text><text class="t" x="240.0" y="576.9" text-anchor="start" textLength="50.6" lengthAdjust="spacingAndGlyphs">05Jan 00z</text><text class="t" x="291.8" y="576.9" text-anchor="start" textLength="50.6" lengthAdjust="spacingAndGlyphs">05Jan 12z</text><text class="t" x="343.5" y="576.9" text-anchor="start" textLength="50.6" lengthAdjust="spacingAndGlyphs">06Jan 00z</text><text class="t" x="395.3" y="576.9" text-anchor="start" textLength="50.6" lengthAdjust="spacingAndGlyphs">06Jan 12z</text><text class="t" x="447.1" y="576.9" text-anchor="start" textLength="50.6" lengthAdjust="spacingAndGlyphs">07Jan 00z</text><text class="t" x="498.8" y="576.9" text-anchor="start" textLength="50.6" lengthAdjust="spacingAndGlyphs">07Jan 12z</text><text class="t" x="550.6" y="576.9" text-anchor="start" textLength="50.6" lengthAdjust="spacingAndGlyphs">08Jan 00z</text><text class="t" x="602.3" y="576.9" text-anchor="start" textLength="50.6" lengthAdjust="spacingAndGlyphs">08Jan 12z</text><text class="t" x="654.1" y="576.9" text-anchor="start" textLength="50.6" lengthAdjust="spacingAndGlyphs">09Jan 00z</text><text class="t" x="705.9" y="576.9" text-anchor="start" textLength="50.6" lengthAdjust="spacingAndGlyphs">09Jan 12z</text><text class="t" x="757.6" y="576.9" text-anchor="start" textLength="50.6" lengthAdjust="spacingAndGlyphs">10Jan 00z</text><text class="t" x="457.6" y="592.7" text-anchor="start" textLength="57.2" lengthAdjust="spacingAndGlyphs">Date (UTC)</text><text class="t" transform="translate(135.3 347.5) rotate(-90)" textLength="102.4" lengthAdjust="spacingAndGlyphs">850 hPa Temp. (°C)</text><text class="t" transform="translate(842.3 347.2) rotate(-90)" textLength="101.4" lengthAdjust="spacingAndGlyphs">Niederschlag (mm)</text>
<text class="b" x="126.0" y="16.6" text-anchor="start" textLength="82.8" lengthAdjust="spacingAndGlyphs">Budapest</text><text class="b" x="221.2" y="16.6" text-anchor="start" textLength="40.8" lengthAdjust="spacingAndGlyphs">(HU)</text><text class="b" x="273.8" y="16.6" text-anchor="start" textLength="32.4" lengthAdjust="spacingAndGlyphs">850</text><text class="b" x="312.9" y="16.6" text-anchor="start" textLength="31.8" lengthAdjust="spacingAndGlyphs">hPa</text><text class="b" x="351.5" y="16.6" text-anchor="start" textLength="52.5" lengthAdjust="spacingAndGlyphs">Temp.</text><text class="b" x="412.0" y="16.6" text-anchor="start" textLength="12.1" lengthAdjust="spacingAndGlyphs">&amp;</text><text class="b" x="430.6" y="16.6" text-anchor="start" textLength="117.4" lengthAdjust="spacingAndGlyphs">Niederschlag</text><text class="b" x="554.6" y="16.6" text-anchor="start">|</text><text class="b" x="566.0" y="16.6" text-anchor="start" textLength="38.8" lengthAdjust="spacingAndGlyphs">Sun,</text><text class="b" x="612.0" y="16.6" text-anchor="start" textLength="93.2" lengthAdjust="spacingAndGlyphs">04Jan2026</text><text class="b" x="713.2" y="16.6" text-anchor="start" textLength="32.0" lengthAdjust="spacingAndGlyphs">06Z</text>
<text class="f" x="120.8" y="604.0" text-anchor="start" textLength="58.0" lengthAdjust="spacingAndGlyphs">ECMWF</text><text class="f" x="186.0" y="604.0" text-anchor="start" textLength="80.8" lengthAdjust="spacingAndGlyphs">Ensemble,</text><text class="f" x="274.0" y="604.0" text-anchor="start" textLength="51.2" lengthAdjust="spacingAndGlyphs">47.5N,</text><text class="f" x="332.0" y="604.0" text-anchor="start" textLength="28.0" lengthAdjust="spacingAndGlyphs">19E</text><text class="f" x="650.8" y="604.0" text-anchor="start" textLength="142.4" lengthAdjust="spacingAndGlyphs">Wetterzentrale.de</text>
<path d="M0 41.0H7.8" stroke="#1018d8" stroke-width="1.6"/><text class="t" x="8.6" y="43.2" text-anchor="start" textLength="12.4" lengthAdjust="spacingAndGlyphs">P1</text><path d="M53 41.0H64" stroke="#0050d0" stroke-width="1.6"/><text class="t" x="64.6" y="43.2" text-anchor="start" textLength="12.4" lengthAdjust="spacingAndGlyphs">P2</text><path d="M0 56.0H7.8" stroke="#0070d0" stroke-width="1.6"/><text class="t" x="8.6" y="58.2" text-anchor="start" textLength="12.4" lengthAdjust="spacingAndGlyphs">P3</text><path d="M53 56.0H64" stroke="#0098d0" stroke-width="1.6"/><text class="t" x="64.6" y="58.2" text-anchor="start" textLength="12.4" lengthAdjust="spacingAndGlyphs">P4</text><path d="M0 71.0H7.8" stroke="#00b0c0" stroke-width="1.6"/><text class="t" x="8.6" y="73.2" text-anchor="start" textLength="12.4" lengthAdjust="spacingAndGlyphs">P5</text><path d="M53 71.0H64" stroke="#00a880" stroke-width="1.6"/><text class="t" x="64.6" y="73.2" text-anchor="start" textLength="12.4" lengthAdjust="spacingAndGlyphs">P6</text><path d="M0 86.0H7.8" stroke="#00a858" stroke-width="1.6"/><text class="t" x="8.6" y="88.2" text-anchor="start" textLength="12.4" lengthAdjust="spacingAndGlyphs">P7</text><path d="M53 86.0H64" stroke="#00b840" stroke-width="1.6"/><text class="t" x="64.6" y="88.2" text-anchor="start" textLength="12.4" lengthAdjust="spacingAndGlyphs">P8</text><path d="M0 101.0H7.8" stroke="#00c818" stroke-width="1.6"/><text class="t" x="8.6" y="103.2" text-anchor="start" textLength="12.4" lengthAdjust="spacingAndGlyphs">P9</text><path d="M53 101.0H64" stroke="#10d000" stroke-width="1.6"/><text class="t" x="64.6" y="103.2" text-anchor="start" textLength="18.8" lengthAdjust="spacingAndGlyphs">P10</text><path d="M0 116.0H7.8" stroke="#d8d000" stroke-width="1.6"/><text class="t" x="8.6" y="118.2" text-anchor="start" textLength="18.8" lengthAdjust="spacingAndGlyphs">P11</text><path d="M53 116.0H64" stroke="#d8c000" stroke-width="1.6"/><text class="t" x="64.6" y="118.2" text-anchor="start" textLength="18.8" lengthAdjust="spacingAndGlyphs">P12</text><path d="M0 130.9H7.8" stroke="#d8a800" stroke-width="1.6"/><text class="t" x="8.6" y="133.1" text-anchor="start" textLength="18.8" lengthAdjust="spacingAndGlyphs">P13</text><path d="M53 130.9H64" stroke="#d89000" stroke-width="1.6"/><text class="t" x="64.6" y="133.1" text-anchor="start" textLength="18.8" lengthAdjust="spacingAndGlyphs">P14</text><path d="M0 145.9H7.8" stroke="#d88000" stroke-width="1.6"/><text class="t" x="8.6" y="148.1" text-anchor="start" textLength="18.8" lengthAdjust="spacingAndGlyphs">P15</text><path d="M53 145.9H64" stroke="#d07000" stroke-width="1.6"/><text class="t" x="64.6" y="148.1" text-anchor="start" textLength="18.8" lengthAdjust="spacingAndGlyphs">P16</text><path d="M0 160.9H7.8" stroke="#d06000" stroke-width="1.6"/><text class="t" x="8.6" y="163.1" text-anchor="start" textLength="18.8" lengthAdjust="spacingAndGlyphs">P17</text><path d="M53 160.9H64" stroke="#d05020" stroke-width="1.6"/><text class="t" x="64.6" y="163.1" text-anchor="start" textLength="18.8" lengthAdjust="spacingAndGlyphs">P18</text><path d="M0 175.9H7.8" stroke="#c83830" stroke-width="1.6"/><text class="t" x="8.6" y="178.1" text-anchor="start" textLength="18.8" lengthAdjust="spacingAndGlyphs">P19</text><path d="M53 175.9H64" stroke="#b02020" stroke-width="1.6"/><text class="t" x="64.6" y="178.1" text-anchor="start" textLength="18.8" lengthAdjust="spacingAndGlyphs">P20</text><path d="M0 190.9H7.8" stroke="#1018d8" stroke-width="1.6"/><text class="t" x="8.6" y="193.1" text-anchor="start" textLength="18.8" lengthAdjust="spacingAndGlyphs">P21</text><path d="M53 190.9H64" stroke="#0050d0" stroke-width="1.6"/><text class="t" x="64.6" y="193.1" text-anchor="start" textLength="18.8" lengthAdjust="spacingAndGlyphs">P22</text><path d="M0 205.9H7.8" stroke="#0070d0" stroke-width="1.6"/><text class="t" x="8.6" y="208.1" text-anchor="start" textLength="18.8" lengthAdjust="spacingAndGlyphs">P23</text><path d="M53 205.9H64" stroke="#0098d0" stroke-width="1.6"/><text class="t" x="64.6" y="208.1" text-anchor="start" textLength="18.8" lengthAdjust="spacingAndGlyphs">P24</text><path d="M0 220.9H7.8" stroke="#00b0c0" stroke-width="1.6"/><text class="t" x="8.6" y="223.1" text-anchor="start" textLength="18.8" lengthAdjust="spacingAndGlyphs">P25</text><path d="M53 220.9H64" stroke="#00a880" stroke-width="1.6"/><text class="t" x="64.6" y="223.1" text-anchor="start" textLength="18.8" lengthAdjust="spacingAndGlyphs">P26</text><path d="M0 235.9H7.8" stroke="#00a858" stroke-width="1.6"/><text class="t" x="8.6" y="238.1" text-anchor="start" textLength="18.8" lengthAdjust="spacingAndGlyphs">P27</text><path d="M53 235.9H64" stroke="#00b840" stroke-width="1.6"/><text class="t" x="64.6" y="238.1" text-anchor="start" textLength="18.8" lengthAdjust="spacingAndGlyphs">P28</text><path d="M0 250.9H7.8" stroke="#00c818" stroke-width="1.6"/><text class="t" x="8.6" y="253.1" text-anchor="start" textLength="18.8" lengthAdjust="spacingAndGlyphs">P29</text><path d="M53 250.9H64" stroke="#10d000" stroke-width="1.6"/><text class="t" x="64.6" y="253.1" text-anchor="start" textLength="18.8" lengthAdjust="spacingAndGlyphs">P30</text><path d="M0 265.9H7.8" stroke="#d8d000" stroke-width="1.6"/><text class="t" x="8.6" y="268.1" text-anchor="start" textLength="18.8" lengthAdjust="spacingAndGlyphs">P31</text><path d="M53 265.9H64" stroke="#d8c000" stroke-width="1.6"/><text class="t" x="64.6" y="268.1" text-anchor="start" textLength="18.8" lengthAdjust="spacingAndGlyphs">P32</text><path d="M0 280.8H7.8" stroke="#d8a800" stroke-width="1.6"/><text class="t" x="8.6" y="283.0" text-anchor="start" textLength="18.8" lengthAdjust="spacingAndGlyphs">P33</text><path d="M53 280.8H64" stroke="#d89000" stroke-width="1.6"/><text class="t" x="64.6" y="283.0" text-anchor="start" textLength="18.8" lengthAdjust="spacingAndGlyphs">P34</text><path d="M0 295.8H7.8" stroke="#d88000" stroke-width="1.6"/><text class="t" x="8.6" y="298.0" text-anchor="start" textLength="18.8" lengthAdjust="spacingAndGlyphs">P35</text><path d="M53 295.8H64" stroke="#d07000" stroke-width="1.6"/><text class="t" x="64.6" y="298.0" text-anchor="start" textLength="18.8" lengthAdjust="spacingAndGlyphs">P36</text><path d="M0 310.8H7.8" stroke="#d06000" stroke-width="1.6"/><text class="t" x="8.6" y="313.0" text-anchor="start" textLength="18.8" lengthAdjust="spacingAndGlyphs">P37</text><path d="M53 310.8H64" stroke="#d05020" stroke-width="1.6"/><text class="t" x="64.6" y="313.0" text-anchor="start" textLength="18.8" lengthAdjust="spacingAndGlyphs">P38</text><path d="M0 325.8H7.8" stroke="#c83830" stroke-width="1.6"/><text class="t" x="8.6" y="328.0" text-anchor="start" textLength="18.8" lengthAdjust="spacingAndGlyphs">P39</text><path d="M53 325.8H64" stroke="#b02020" stroke-width="1.6"/><text class="t" x="64.6" y="328.0" text-anchor="start" textLength="18.8" lengthAdjust="spacingAndGlyphs">P40</text><path d="M0 340.8H7.8" stroke="#1018d8" stroke-width="1.6"/><text class="t" x="8.6" y="343.0" text-anchor="start" textLength="18.8" lengthAdjust="spacingAndGlyphs">P41</text><path d="M53 340.8H64" stroke="#0050d0" stroke-width="1.6"/><text class="t" x="64.6" y="343.0" text-anchor="start" textLength="18.8" lengthAdjust="spacingAndGlyphs">P42</text><path d="M0 355.8H7.8" stroke="#0070d0" stroke-width="1.6"/><text class="t" x="8.6" y="358.0" text-anchor="start" textLength="18.8" lengthAdjust="spacingAndGlyphs">P43</text><path d="M53 355.8H64" stroke="#0098d0" stroke-width="1.6"/><text class="t" x="64.6" y="358.0" text-anchor="start" textLength="18.8" lengthAdjust="spacingAndGlyphs">P44</text><path d="M0 370.8H7.8" stroke="#00b0c0" stroke-width="1.6"/><text class="t" x="8.6" y="373.0" text-anchor="start" textLength="18.8" lengthAdjust="spacingAndGlyphs">P45</text><path d="M53 370.8H64" stroke="#00a880" stroke-width="1.6"/><text class="t" x="64.6" y="373.0" text-anchor="start" textLength="18.8" lengthAdjust="spacingAndGlyphs">P46</text><path d="M0 385.8H7.8" stroke="#00a858" stroke-width="1.6"/><text class="t" x="8.6" y="388.0" text-anchor="start" textLength="18.8" lengthAdjust="spacingAndGlyphs">P47</text><path d="M53 385.8H64" stroke="#00b840" stroke-width="1.6"/><text class="t" x="64.6" y="388.0" text-anchor="start" textLength="18.8" lengthAdjust="spacingAndGlyphs">P48</text><path d="M0 400.8H7.8" stroke="#00c818" stroke-width="1.6"/><text class="t" x="8.6" y="403.0" text-anchor="start" textLength="18.8" lengthAdjust="spacingAndGlyphs">P49</text><path d="M53 400.8H64" stroke="#10d000" stroke-width="1.6"/><text class="t" x="64.6" y="403.0" text-anchor="start" textLength="18.8" lengthAdjust="spacingAndGlyphs">P50</text><path d="M0 416.7H7.8" stroke="#0000ff" stroke-width="2.2"/><text class="t" x="8.6" y="418.7" text-anchor="start" textLength="36.9" lengthAdjust="spacingAndGlyphs">Control</text><path d="M53 416.7H64" stroke="#fff" stroke-width="2.6"/><text class="t" x="64.6" y="418.7" text-anchor="start" textLength="54.7" lengthAdjust="spacingAndGlyphs">Ens. mean</text><path d="M53 443H64" stroke="#f04048" stroke-width="2.2"/><text class="t" x="64.6" y="446.6" text-anchor="start" textLength="56.3" lengthAdjust="spacingAndGlyphs">1991-2020</text><text class="t" x="64.6" y="457.3" text-anchor="start" textLength="28.6" lengthAdjust="spacingAndGlyphs">mean</text><path d="M0 457H7.8" stroke="#00e800" stroke-width="2.2"/><text class="t" x="8.6" y="458.9" text-anchor="start" textLength="24.9" lengthAdjust="spacingAndGlyphs">Oper</text>
</svg>
</body></html>
